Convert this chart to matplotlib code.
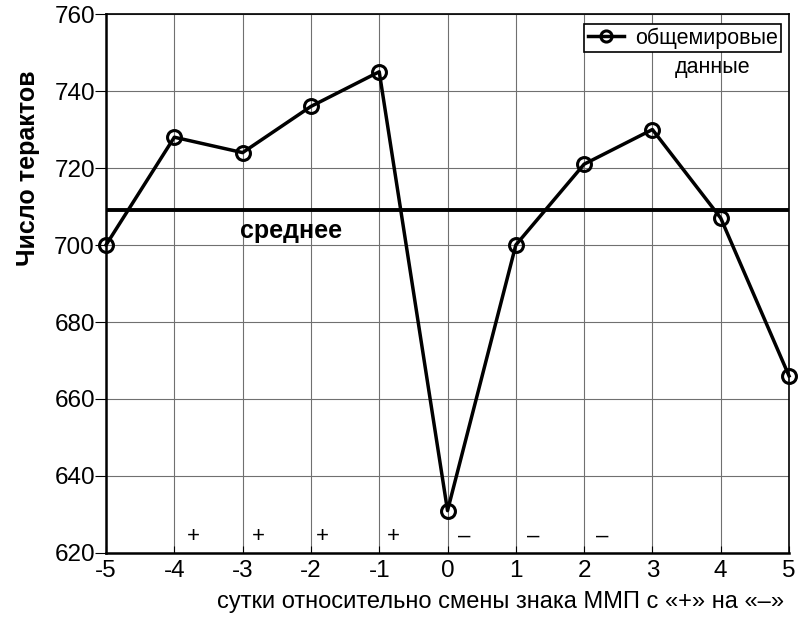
import matplotlib.pyplot as plt
import numpy as np

plt.rcParams['font.family'] = ['Liberation Sans', 'DejaVu Sans']

days = [-5, -4, -3, -2, -1, 0, 1, 2, 3, 4, 5]
attacks = [700, 728, 724, 736, 745, 631, 700, 721, 730, 707, 666]
mean_value = 709
sign_x = [-3.72, -2.77, -1.83, -0.79, 0.24, 1.25, 2.26]
signs = ['+', '+', '+', '+', '–', '–', '–']
xticks = list(range(-5, 6))
yticks = list(range(620, 761, 20))

fig = plt.figure(figsize=(7.99, 6.18), dpi=100)
ax = fig.add_axes([0.1327, 0.1052, 0.8548, 0.8721])

ax.grid(True, color='#707070', linewidth=0.8)
ax.axhline(mean_value, color='black', linewidth=2.8, zorder=3)
ax.plot(days, attacks, color='black', linewidth=2.5, marker='o',
        markersize=10, markerfacecolor='none', markeredgewidth=2.2,
        label='общемировые', zorder=4, clip_on=False)

ax.text(-2.29, 703.6, 'среднее', fontsize=18, fontweight='bold', ha='center', va='center')
for sx, s in zip(sign_x, signs):
    ax.text(sx, 624.4, s, fontsize=16, ha='center', va='center')

ax.set_xlim(-5, 5)
ax.set_ylim(620, 760)
ax.set_xticks(xticks)
ax.set_yticks(yticks)
ax.set_xticklabels([str(t) for t in xticks])
ax.tick_params(axis='x', labelsize=17.5, direction='in', length=5, pad=5)
ax.tick_params(axis='y', labelsize=17.5, direction='out', length=8, pad=0)
for side in ['left', 'bottom']:
    ax.spines[side].set_linewidth(1.8)
for side in ['top', 'right']:
    ax.spines[side].set_linewidth(1.2)

ax.set_ylabel('Число терактов', fontsize=18, fontweight='bold')
ax.yaxis.set_label_coords(-0.0966, 0.714)
ax.set_xlabel('сутки относительно смены знака ММП с «+» на «–»', fontsize=17)
ax.xaxis.set_label_coords(0.578, -0.07)

leg = ax.legend(loc='upper right', bbox_to_anchor=(0.9885, 0.9815), fontsize=15.5,
                frameon=True, fancybox=False, edgecolor='black', framealpha=1,
                handlelength=1.7, borderpad=0.15, handletextpad=0.5,
                markerscale=0.8, borderaxespad=0)
leg.get_frame().set_linewidth(1.2)
ax.text(3.88, 746, 'данные', fontsize=15.5, ha='center', va='center')

plt.savefig('out.png', dpi=100)
